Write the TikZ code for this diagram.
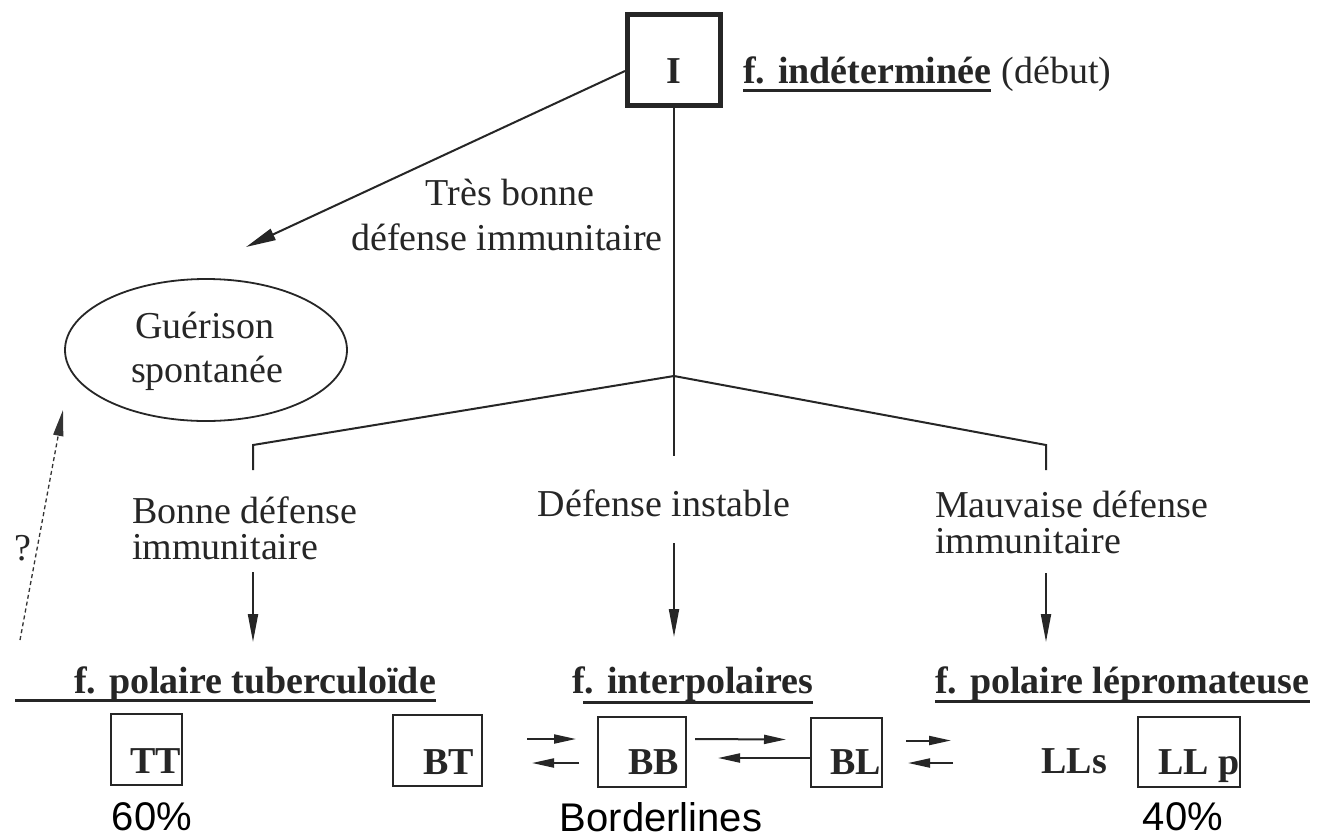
\documentclass[tikz,border=0pt]{standalone}
\usepackage{fontspec}
\setmainfont{Liberation Serif}
\newfontfamily\sansfam{Liberation Sans}
\usetikzlibrary{arrows.meta,calc,shapes.geometric}
\begin{document}
\begin{tikzpicture}[x=1pt,y=-1pt,
  txt/.style={font=\fontsize{38}{44}\selectfont, inner sep=0pt, anchor=base, text=black!85},
  btxt/.style={txt, font=\fontsize{38}{44}\selectfont\bfseries},
  stxt/.style={font=\sansfam\fontsize{40}{46}\selectfont, inner sep=0pt, anchor=base, text=black},
  conn/.style={line width=2pt, draw=black!85},
  arrbig/.style={conn, -{Triangle[length=30pt,width=12pt]}},
  varr/.style={conn, -{Triangle[length=28pt,width=10pt]}},
  harr/.style={conn, -{Triangle[length=22pt,width=9pt]}},
  dasharr/.style={line width=1.3pt, draw=black!80, dash pattern=on 4pt off 3pt, -{Triangle[length=26pt,width=10pt]}},
  uline/.style={line width=3pt, draw=black!85},
  ibox/.style={draw=black!85, line width=5pt, minimum width=93pt, minimum height=91pt, inner sep=0pt},
  bbox/.style={draw=black!85, line width=2pt, inner sep=0pt},
  ell/.style={ellipse, draw=black!85, line width=1.8pt, minimum width=282pt, minimum height=142pt, inner sep=0pt}
]
\useasboundingbox (0,0) rectangle (1320,839);
\fill[white] (0,0) rectangle (1320,839);

% top box
\node[ibox] (I) at (674,60) {};
\node[btxt] (Ilab) at (674,83) {I};
\node[btxt, anchor=base west] (find) at (743,83) {f. indéterminée};
\node[txt, anchor=base west] (debut) at ($(find.base east)+(10,0)$) {(début)};
\draw[uline] ($(find.base west)+(0,7)$) -- ($(find.base east)+(0,7)$);

% very good defence
\node[txt] (tb1) at (510,205) {Très bonne};
\node[txt] (tb2) at (507,250) {défense immunitaire};
\node[ell] (G) at (206,350) {};
\node[txt] (g1) at (205,338) {Guérison};
\node[txt] (g2) at (207,382) {spontanée};
\coordinate (gtip) at (246,247);
\draw[arrbig] ($(I.west)+(0,11)$) -- (gtip);

% tree
\coordinate (apex) at (674,376);
\coordinate (lc) at (253,445);
\coordinate (lt) at (253,470);
\coordinate (rc) at (1046,445);
\coordinate (rt) at (1046,470);
\coordinate (cb) at (674,456);
\draw[conn] (I.south) -- (apex) -- (cb);
\draw[conn] (lt) -- (lc) -- (apex) -- (rc) -- (rt);

\node[txt, anchor=base west] (bd1) at (132,523) {Bonne défense};
\node[txt, anchor=base west] (bd2) at (132,559) {immunitaire};
\node[txt] (di) at (664,516) {Défense instable};
\node[txt, anchor=base west] (md1) at (935,517) {Mauvaise défense};
\node[txt, anchor=base west] (md2) at (935,553) {immunitaire};

\coordinate (a1s) at (253,572); \coordinate (a1e) at (253,642);
\coordinate (a2s) at (674,543); \coordinate (a2e) at (674,637);
\coordinate (a3s) at (1046,573); \coordinate (a3e) at (1046,642);
\draw[varr] (a1s) -- (a1e);
\draw[varr] (a2s) -- (a2e);
\draw[varr] (a3s) -- (a3e);

% dashed question arrow
\coordinate (qs) at (20,640); \coordinate (qe) at (63,410);
\draw[dasharr] (qs) -- (qe);
\node[txt] (q) at (23,560) {?};

% titles
\node[btxt, anchor=base west] (tub) at (74,693) {f. polaire tuberculoïde};
\node[btxt, anchor=base west] (inter) at (572,693) {f. interpolaires};
\node[btxt, anchor=base west] (lepro) at (935,693) {f. polaire lépromateuse};
\coordinate (tubu) at (15,700);
\draw[uline] (tubu) -- ($(tub.base east)+(0,7)$);
\draw[uline] ($(inter.base west)+(11,9)$) -- ($(inter.base east)+(0,9)$);
\draw[uline] ($(lepro.base west)+(0,8)$) -- ($(lepro.base east)+(0,8)$);

% boxes
\node[bbox, minimum width=71pt, minimum height=71pt] (TT) at (146.5,749.5) {};
\node[btxt, anchor=base east] (tTT) at ($(TT.south east)+(-2,-13)$) {TT};
\node[bbox, minimum width=89pt, minimum height=71pt] (BT) at (437.5,750.5) {};
\node[btxt, anchor=base east] (tBT) at ($(BT.south east)+(-9,-13)$) {BT};
\node[bbox, minimum width=88pt, minimum height=70pt] (BB) at (642,752) {};
\node[btxt, anchor=base east] (tBB) at ($(BB.south east)+(-8,-14)$) {BB};
\node[bbox, minimum width=71pt, minimum height=69pt] (BL) at (846.5,752.5) {};
\node[btxt, anchor=base east] (tBL) at ($(BL.south east)+(-2,-14)$) {BL};
\node[btxt, anchor=base east] (LLs) at (1107,773) {LLs};
\node[bbox, minimum width=102pt, minimum height=70pt] (LLp) at (1189,752) {};
\node[btxt, anchor=base east] (tLLp) at ($(LLp.south east)+(-1,-14)$) {LL p};

% exchange arrows
\draw[harr] ($(BB.west)+(-70,-13)$) -- ($(BB.west)+(-21,-13)$);
\draw[harr] ($(BB.west)+(-18,11)$) -- ($(BB.west)+(-65,11)$);
\draw[harr] ($(BB.east)+(8,-13)$) -- ($(BL.west)+(-24,-13)$);
\draw[harr] ($(BL.west)+(0,5.5)$) -- ($(BB.east)+(31,6)$);
\draw[harr] ($(BL.east)+(23,-12)$) -- ($(BL.east)+(68,-12)$);
\draw[harr] ($(BL.east)+(70,10.5)$) -- ($(BL.east)+(25,10.5)$);

% percentages
\node[stxt] (p60) at (152,830) {60\%};
\node[stxt] (bord) at (661,831) {Borderlines};
\node[stxt] (p40) at (1183,830) {40\%};
\end{tikzpicture}
\end{document}
